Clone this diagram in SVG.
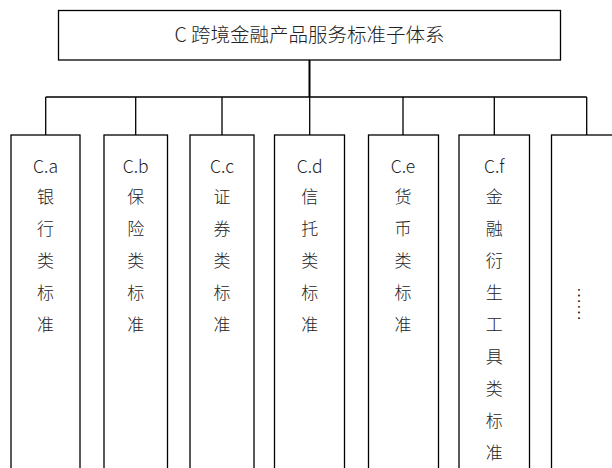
<svg xmlns="http://www.w3.org/2000/svg" width="612" height="468" viewBox="0 0 612 468">
<style>
.box{fill:#fff;stroke:#000;stroke-width:1.3}
.ln{fill:none;stroke:#000;stroke-width:1.3}
.t{font-family:"Noto Sans CJK SC",sans-serif;font-size:17.5px;font-weight:300;fill:#222;text-anchor:middle}
.c{font-family:"Noto Sans CJK SC",sans-serif;font-size:17px;font-weight:300;fill:#222;text-anchor:middle}
.title{font-family:"Noto Sans CJK SC",sans-serif;font-size:19.5px;font-weight:300;fill:#222;text-anchor:middle}
</style>
<rect width="612" height="468" fill="#fff"/>
<g id="connectors">
<line x1="309.5" y1="60" x2="309.5" y2="97" stroke="#000" stroke-width="2"/>
<path class="ln" d="M45.7 97H586.7M45.7 97V135M135.7 97V135M222 97V135M309.7 97V135M403 97V135M494.3 97V135M586.7 97V135"/>
</g>
<g id="root">
<rect class="box" x="58.5" y="10.5" width="502" height="49.5"/>
<text class="title" x="309.5" y="42">C 跨境金融产品服务标准子体系</text>
</g>
<g id="ca">
<rect class="box" x="11" y="135" width="69" height="340"/>
<text class="t" x="45.5" y="172.5">C.a</text>
<text class="c" x="45.5" y="203">银</text><text class="c" x="45.5" y="235">行</text><text class="c" x="45.5" y="267">类</text><text class="c" x="45.5" y="299">标</text><text class="c" x="45.5" y="331">准</text>
</g>
<g id="cb">
<rect class="box" x="104" y="135" width="63.5" height="340"/>
<text class="t" x="135.7" y="172.5">C.b</text>
<text class="c" x="135.7" y="203">保</text><text class="c" x="135.7" y="235">险</text><text class="c" x="135.7" y="267">类</text><text class="c" x="135.7" y="299">标</text><text class="c" x="135.7" y="331">准</text>
</g>
<g id="cc">
<rect class="box" x="190" y="135" width="64" height="340"/>
<text class="t" x="222" y="172.5">C.c</text>
<text class="c" x="222" y="203">证</text><text class="c" x="222" y="235">券</text><text class="c" x="222" y="267">类</text><text class="c" x="222" y="299">标</text><text class="c" x="222" y="331">准</text>
</g>
<g id="cd">
<rect class="box" x="274.5" y="135" width="70" height="340"/>
<text class="t" x="309.7" y="172.5">C.d</text>
<text class="c" x="309.7" y="203">信</text><text class="c" x="309.7" y="235">托</text><text class="c" x="309.7" y="267">类</text><text class="c" x="309.7" y="299">标</text><text class="c" x="309.7" y="331">准</text>
</g>
<g id="ce">
<rect class="box" x="368.5" y="135" width="70" height="340"/>
<text class="t" x="403" y="172.5">C.e</text>
<text class="c" x="403" y="203">货</text><text class="c" x="403" y="235">币</text><text class="c" x="403" y="267">类</text><text class="c" x="403" y="299">标</text><text class="c" x="403" y="331">准</text>
</g>
<g id="cf">
<rect class="box" x="459" y="135" width="70.5" height="340"/>
<text class="t" x="494.3" y="172.5">C.f</text>
<text class="c" x="494.3" y="203">金</text><text class="c" x="494.3" y="235">融</text><text class="c" x="494.3" y="267">衍</text><text class="c" x="494.3" y="299">生</text><text class="c" x="494.3" y="331">工</text><text class="c" x="494.3" y="363">具</text><text class="c" x="494.3" y="395">类</text><text class="c" x="494.3" y="427">标</text><text class="c" x="494.3" y="459">准</text>
</g>
<g id="cg">
<rect class="box" x="551.5" y="135" width="70" height="340"/>
<text class="c" x="0" y="0" font-size="12" dominant-baseline="central" transform="translate(579.5 304) rotate(90)">……</text>
</g>
</svg>
